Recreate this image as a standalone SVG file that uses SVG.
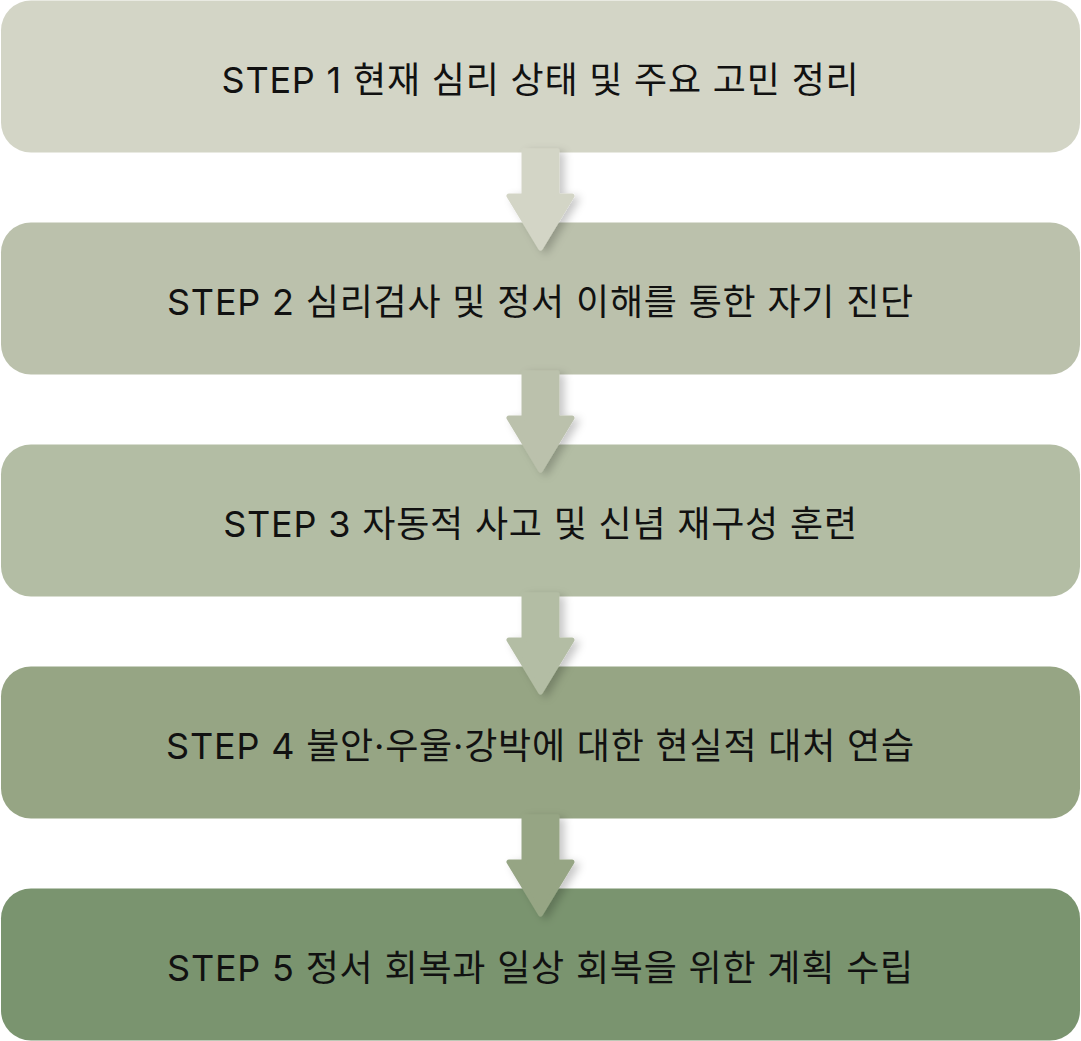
<svg xmlns="http://www.w3.org/2000/svg" width="1081" height="1041" viewBox="0 0 1081 1041">
<defs>
<style>
.box{stroke:none}
.lbl{font-family:Inter,"Noto Sans CJK KR",sans-serif;font-size:36px;font-weight:400;letter-spacing:0.8px;fill:#111;text-anchor:middle}
.arr{stroke-width:5;stroke-linejoin:round}
</style>
<filter id="sh" x="-50%" y="-20%" width="200%" height="150%">
<feDropShadow dx="5" dy="3" stdDeviation="4" flood-color="#000" flood-opacity="0.22"/>
</filter>
</defs>
<rect width="1081" height="1041" fill="#ffffff"/>
<g id="node1"><rect class="box" x="1" y="0.5" width="1079" height="152" rx="30" fill="#d3d5c6"/><text class="lbl" x="540.5" y="93">STEP 1 현재 심리 상태 및 주요 고민 정리</text></g>
<g id="node2"><rect class="box" x="1" y="222.5" width="1079" height="152" rx="30" fill="#bbc1ac"/><text class="lbl" x="540.5" y="315">STEP 2 심리검사 및 정서 이해를 통한 자기 진단</text></g>
<g id="node3"><rect class="box" x="1" y="444.5" width="1079" height="152" rx="30" fill="#b3bda4"/><text class="lbl" x="540.5" y="537">STEP 3 자동적 사고 및 신념 재구성 훈련</text></g>
<g id="node4"><rect class="box" x="1" y="666.5" width="1079" height="152" rx="30" fill="#96a584"/><text class="lbl" x="540.5" y="759">STEP 4 불안·우울·강박에 대한 현실적 대처 연습</text></g>
<g id="node5"><rect class="box" x="1" y="888.5" width="1079" height="152" rx="30" fill="#7a946f"/><text class="lbl" x="540.5" y="981">STEP 5 정서 회복과 일상 회복을 위한 계획 수립</text></g>
<g id="connectors" filter="url(#sh)">
<polygon class="arr" fill="#d3d5c6" stroke="#d3d5c6" points="524,151 557,151 557,196 572,196 540.5,248 509,196 524,196"/>
<polygon class="arr" fill="#bbc1ac" stroke="#bbc1ac" points="524,373 557,373 557,418 572,418 540.5,470 509,418 524,418"/>
<polygon class="arr" fill="#b3bda4" stroke="#b3bda4" points="524,595 557,595 557,640 572,640 540.5,692 509,640 524,640"/>
<polygon class="arr" fill="#96a584" stroke="#96a584" points="524,817 557,817 557,862 572,862 540.5,914 509,862 524,862"/>
</g>
</svg>
